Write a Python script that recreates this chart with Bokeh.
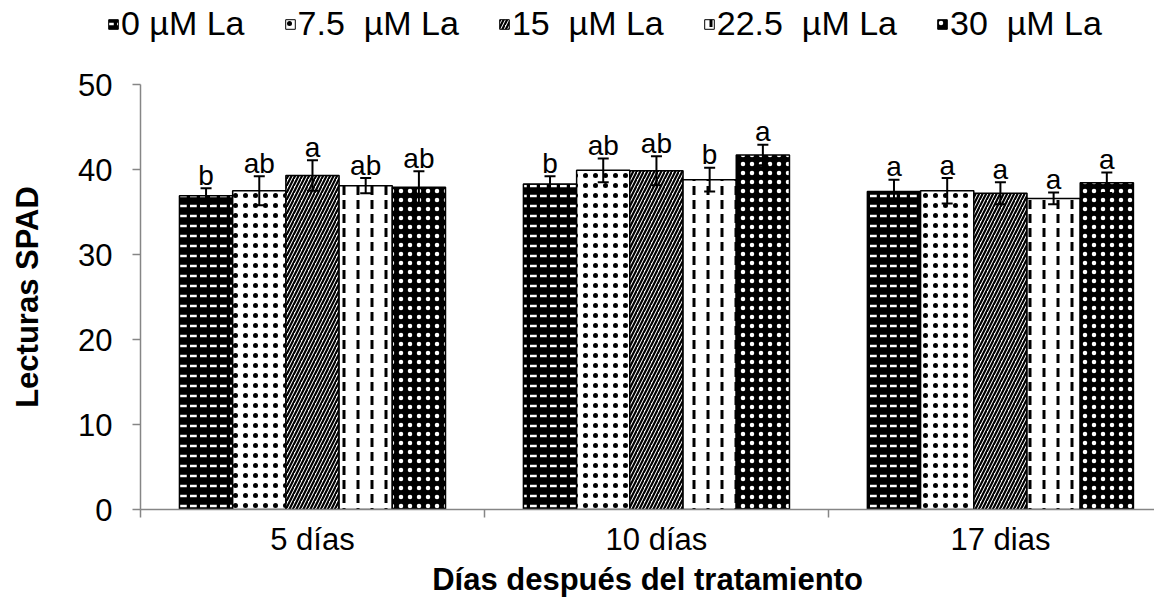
from bokeh.plotting import figure
from bokeh.layouts import column, row
from bokeh.models import ColumnDataSource, FixedTicker, Legend, LegendItem, Range1d
from bokeh.embed import file_html
from bokeh.resources import INLINE
from bokeh.core.properties import value

categories = ["5 días", "10 días", "17 dias"]
series = ["0 µM La", "7.5  µM La", "15  µM La", "22.5  µM La", "30  µM La"]

means_0 = [36.9, 38.3, 37.4]
means_7_5 = [37.5, 39.9, 37.5]
means_15 = [39.3, 39.85, 37.2]
means_22_5 = [38.1, 38.8, 36.6]
means_30 = [37.9, 41.7, 38.45]

err_0 = [0.9, 0.9, 1.4]
err_7_5 = [1.7, 1.4, 1.5]
err_15 = [1.8, 1.7, 1.3]
err_22_5 = [0.9, 1.4, 0.7]
err_30 = [1.9, 1.2, 1.2]

letters_0 = ["b", "b", "a"]
letters_7_5 = ["ab", "ab", "a"]
letters_15 = ["a", "ab", "a"]
letters_22_5 = ["ab", "b", "a"]
letters_30 = ["ab", "a", "a"]

y_ticks = [0, 10, 20, 30, 40, 50]

all_means = [means_0, means_7_5, means_15, means_22_5, means_30]
all_err = [err_0, err_7_5, err_15, err_22_5, err_30]
all_letters = [letters_0, letters_7_5, letters_15, letters_22_5, letters_30]

styles = [
    dict(fill_color="black", hatch_pattern="horizontal_dash", hatch_color="white", hatch_scale=10, hatch_weight=2.5),
    dict(fill_color="white", hatch_pattern="dot", hatch_color="black", hatch_scale=10, hatch_weight=0.8),
    dict(fill_color="white", hatch_pattern="right_diagonal_line", hatch_color="black", hatch_scale=7, hatch_weight=2.2),
    dict(fill_color="white", hatch_pattern="vertical_dash", hatch_color="black", hatch_scale=14, hatch_weight=3),
    dict(fill_color="black", hatch_pattern="dot", hatch_color="white", hatch_scale=9, hatch_weight=1.2),
]

FONT = "Liberation Sans"
AXIS_GRAY = "#868686"
W = 1154
LEG_H = 60

# ---- legend strip (its own small figure; its bars lie outside its ranges) ----
lf = figure(width=W, height=LEG_H, output_backend="svg", toolbar_location=None,
            x_range=Range1d(100, 101), y_range=Range1d(100, 101),
            min_border_left=0, min_border_right=0, min_border_top=0, min_border_bottom=0)
lf.axis.visible = False
lf.grid.visible = False
lf.outline_line_color = None
lf.background_fill_color = "white"
lf.border_fill_color = "white"

# ---- main chart ----
p = figure(width=W, height=599 - LEG_H, output_backend="svg", toolbar_location=None,
           x_range=Range1d(0, 2.948), y_range=Range1d(0, 50),
           min_border_left=140, min_border_right=0, min_border_top=84 - LEG_H, min_border_bottom=88)
p.outline_line_color = None
p.grid.visible = False
p.background_fill_color = "white"
p.border_fill_color = "white"

bar_w = 0.1547
n = len(series)
items = []
for i in range(n):
    xs = [c + 0.5 + (i - (n - 1) / 2) * bar_w for c in range(len(categories))]
    tops = all_means[i]
    src = ColumnDataSource(dict(
        x=xs, top=tops,
        lo=[m - e for m, e in zip(tops, all_err[i])],
        hi=[m + e for m, e in zip(tops, all_err[i])],
        x0=[x - 0.016 for x in xs], x1=[x + 0.016 for x in xs],
        lab=all_letters[i],
    ))
    p.vbar(x="x", top="top", bottom=0, width=bar_w, source=src,
           line_color="black", line_width=1.5, **styles[i])
    p.segment(x0="x", y0="lo", x1="x", y1="hi", source=src, line_color="black", line_width=2)
    p.segment(x0="x0", y0="hi", x1="x1", y1="hi", source=src, line_color="black", line_width=2)
    p.segment(x0="x0", y0="lo", x1="x1", y1="lo", source=src, line_color="black", line_width=2)
    p.text(x="x", y="hi", text="lab", source=src, text_align="center", text_baseline="alphabetic",
           y_offset=-13, text_font=value(FONT), text_font_size="28px", text_color="black")
    # same bars in the legend strip, outside its visible ranges: only the key swatch shows
    lr = lf.vbar(x="x", top="top", bottom=0, width=bar_w, source=src,
                 line_color="black", line_width=1, **styles[i])
    items.append(LegendItem(label=series[i], renderers=[lr]))

legend = Legend(items=items, orientation="horizontal", location=(107, 17),
                glyph_width=12, glyph_height=12, label_standoff=2, spacing=39,
                padding=0, margin=0, border_line_color=None, background_fill_alpha=0,
                label_text_font=FONT, label_text_font_size="34px", label_text_color="black")
lf.add_layout(legend, "center")

# x axis
p.xaxis.ticker = FixedTicker(ticks=[0.5, 1.5, 2.5], minor_ticks=[0, 1, 2, 3])
p.xaxis.major_label_overrides = {0.5: categories[0], 1.5: categories[1], 2.5: categories[2]}
p.xaxis.major_tick_in = 0
p.xaxis.major_tick_out = 0
p.xaxis.minor_tick_in = 0
p.xaxis.minor_tick_out = 8
p.xaxis.minor_tick_line_color = AXIS_GRAY
p.xaxis.minor_tick_line_width = 1.5
p.xaxis.axis_line_color = AXIS_GRAY
p.xaxis.axis_line_width = 1.5
p.xaxis.major_label_text_font = FONT
p.xaxis.major_label_text_font_size = "31px"
p.xaxis.major_label_text_color = "black"
p.xaxis.major_label_standoff = 4
p.xaxis.axis_label = "Días después del tratamiento"
p.xaxis.axis_label_text_font = FONT
p.xaxis.axis_label_text_font_size = "31px"
p.xaxis.axis_label_text_font_style = "bold"
p.xaxis.axis_label_text_color = "black"
p.xaxis.axis_label_standoff = 2

# y axis
p.yaxis.ticker = FixedTicker(ticks=y_ticks)
p.yaxis.major_tick_in = 0
p.yaxis.major_tick_out = 8
p.yaxis.major_tick_line_color = AXIS_GRAY
p.yaxis.major_tick_line_width = 1.5
p.yaxis.minor_tick_line_color = None
p.yaxis.axis_line_color = AXIS_GRAY
p.yaxis.axis_line_width = 1.5
p.yaxis.major_label_text_font = FONT
p.yaxis.major_label_text_font_size = "31px"
p.yaxis.major_label_text_color = "black"
p.yaxis.major_label_standoff = 20
p.yaxis.axis_label = "Lecturas SPAD"
p.yaxis.axis_label_text_font = FONT
p.yaxis.axis_label_text_font_size = "31px"
p.yaxis.axis_label_text_font_style = "bold"
p.yaxis.axis_label_text_color = "black"
p.yaxis.axis_label_standoff = 30

layout = column(row(lf, spacing=0), p, spacing=0)
open("out.html", "w").write(file_html(layout, INLINE))
